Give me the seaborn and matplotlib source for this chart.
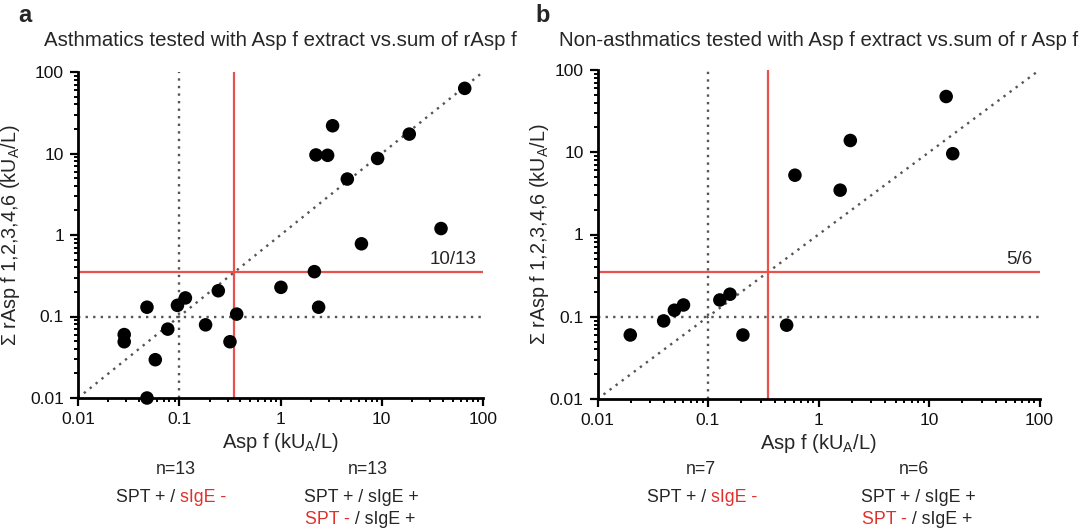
import numpy as np
import pandas as pd
import seaborn as sns
import matplotlib.pyplot as plt
from matplotlib.ticker import LogLocator, NullFormatter, FixedLocator, FixedFormatter

# asthmatics: Asp f extract vs sum of rAsp f
asth_x = [66, 3.27, 18.7, 2.24, 2.92, 9.1, 4.57, 38.5, 6.3, 2.16, 1.01, 2.38,
          0.243, 0.115, 0.096, 0.048, 0.369, 0.182, 0.077, 0.0286, 0.0286,
          0.317, 0.058, 0.048]
asth_y = [63, 21.9, 17.3, 9.6, 9.5, 8.7, 4.86, 1.2, 0.78, 0.355, 0.228, 0.13,
          0.207, 0.169, 0.137, 0.13, 0.107, 0.079, 0.07, 0.06, 0.049,
          0.049, 0.0295, 0.01]

# non-asthmatics
non_x = [14.3, 1.94, 16.4, 0.612, 1.57, 0.158, 0.128, 0.06, 0.0496, 0.0397,
         0.0198, 0.207, 0.515]
non_y = [47.6, 13.9, 9.6, 5.26, 3.46, 0.188, 0.16, 0.139, 0.12, 0.089,
         0.06, 0.06, 0.079]

cutoff = 0.35
low_line = 0.1
ticks = [0.01, 0.1, 1, 10, 100]
tick_labels = ["0.01", "0.1", "1", "10", "100"]

panels = [
    {"letter": "a", "title": "Asthmatics tested with Asp f extract vs.sum of rAsp f",
     "x": asth_x, "y": asth_y, "ratio": "10/13", "n_left": "n=13", "n_right": "n=13"},
    {"letter": "b", "title": "Non-asthmatics tested with Asp f extract vs.sum of r Asp f",
     "x": non_x, "y": non_y, "ratio": "5/6", "n_left": "n=7", "n_right": "n=6"},
]

sns.set_style("ticks")
plt.rcParams["font.family"] = ["Liberation Sans", "DejaVu Sans"]
plt.rcParams["mathtext.fontset"] = "custom"
plt.rcParams["mathtext.rm"] = "Liberation Sans"
plt.rcParams["mathtext.it"] = "Liberation Sans:italic"

RED = "#e8514c"
RED_TXT = "#e0302c"
GREY = "#555555"

W, H = 1088, 529
fig = plt.figure(figsize=(W / 100, H / 100), dpi=100)

# axes boxes in pixels: left, top, right, bottom
boxes = [(78, 72, 483, 398), (597.5, 70, 1039.5, 399)]
ylab_x = [22, 551]
split_a = [180, 711]
split_b = [350, 907]
n_left_x = [176, 701]
n_right_x = [368, 914]
ANN = 12.8


def fx(px):
    return px / W


def fy(py):
    return 1 - py / H


for i, p in enumerate(panels):
    l, t, r, b = boxes[i]
    ax = fig.add_axes([fx(l), fy(b), fx(r - l), (b - t) / H])
    df = pd.DataFrame({"x": p["x"], "y": p["y"]})

    ax.plot([0.01, 100], [0.01, 100], ls=(0, (1, 2.2)), color=GREY, lw=1.7, zorder=1)
    ax.axvline(low_line, ls=(0, (1, 2.2)), color=GREY, lw=1.7, zorder=1)
    ax.axhline(low_line, ls=(0, (1, 2.2)), color=GREY, lw=1.7, zorder=1)
    ax.axvline(cutoff, color=RED, lw=1.6, zorder=2)
    ax.axhline(cutoff, color=RED, lw=1.6, zorder=2)

    sns.scatterplot(data=df, x="x", y="y", ax=ax, color="black", s=95,
                    edgecolor="none", zorder=3, clip_on=False)

    ax.set_xscale("log")
    ax.set_yscale("log")
    ax.set_xlim(0.01, 100)
    ax.set_ylim(0.01, 100)
    for axis in (ax.xaxis, ax.yaxis):
        axis.set_major_locator(FixedLocator(ticks))
        axis.set_major_formatter(FixedFormatter(tick_labels))
        axis.set_minor_locator(LogLocator(base=10, subs=np.arange(2, 10)))
        axis.set_minor_formatter(NullFormatter())
    ax.tick_params(which="major", direction="out", length=6, width=1.6,
                   labelsize=12.5, color="black", labelcolor="#111111", pad=4)
    ax.tick_params(which="minor", direction="out", length=3, width=1.4, color="black")
    sns.despine(ax=ax)
    for s in ("left", "bottom"):
        ax.spines[s].set_linewidth(2)
        ax.spines[s].set_color("black")

    ax.set_xlabel(r"Asp f (kU$_\mathregular{A}$/L)", fontsize=14.5, labelpad=3)
    ax.set_ylabel(r"Σ rAsp f 1,2,3,4,6 (kU$_\mathregular{A}$/L)", fontsize=14.2)
    ax.yaxis.set_label_coords((ylab_x[i] - l) / (r - l), 0.5)

    ax.text(0.985, cutoff * 1.12, p["ratio"], transform=ax.get_yaxis_transform(),
            ha="right", va="bottom", fontsize=13.5)

    cx = (l + r) / 2
    fig.text(fx(cx), fy(40), p["title"], ha="center", va="center", fontsize=14.7)
    fig.text(fx(l - 60 if i == 0 else l - 62), fy(15), p["letter"], ha="left",
             va="center", fontsize=17, fontweight="bold")

    fig.text(fx(n_left_x[i]), fy(469), p["n_left"], ha="center", va="center", fontsize=ANN)
    fig.text(fx(n_right_x[i]), fy(469), p["n_right"], ha="center", va="center", fontsize=ANN)

    fig.text(fx(split_a[i]), fy(497), "SPT + / ", ha="right", va="center", fontsize=ANN)
    fig.text(fx(split_a[i]), fy(497), "sIgE -", ha="left", va="center", fontsize=ANN,
             color=RED_TXT)
    rb = split_b[i]
    fig.text(fx(rb), fy(519), "SPT -", ha="right", va="center", fontsize=ANN, color=RED_TXT)
    fig.text(fx(rb), fy(519), " / sIgE +", ha="left", va="center", fontsize=ANN)
    fig.text(fx(rb - 46), fy(497), "SPT + / sIgE +", ha="left", va="center", fontsize=ANN)

plt.savefig("out.png", dpi=100)
